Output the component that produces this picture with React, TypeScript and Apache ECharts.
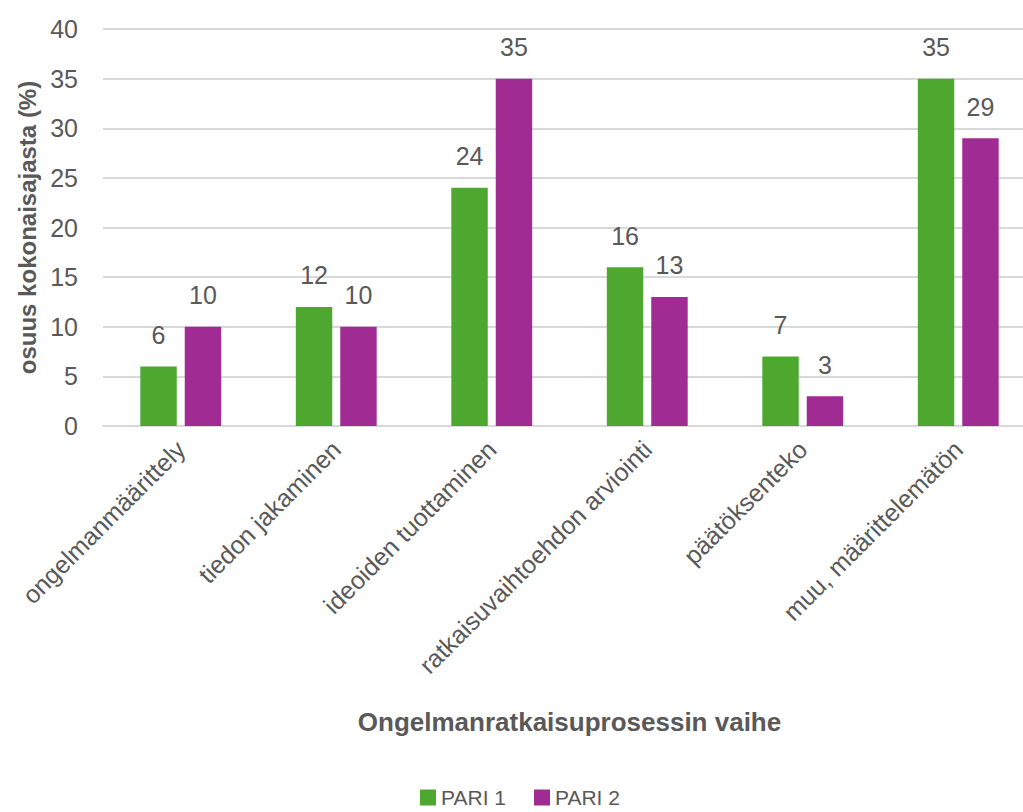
import React, { useEffect, useRef } from "react";
import * as echarts from "echarts";

const categories = [
  "ongelmanmäärittely",
  "tiedon jakaminen",
  "ideoiden tuottaminen",
  "ratkaisuvaihtoehdon arviointi",
  "päätöksenteko",
  "muu, määrittelemätön",
];
const pari1 = [6, 12, 24, 16, 7, 35];
const pari2 = [10, 10, 35, 13, 3, 29];
const seriesNames = ["PARI 1", "PARI 2"];
const colors = ["#4EA72E", "#A02B93"];
const xTitle = "Ongelmanratkaisuprosessin vaihe";
const yTitle = "osuus kokonaisajasta (%)";

const FONT = "Liberation Sans";

export default function App() {
  const ref = useRef<HTMLDivElement>(null);
  useEffect(() => {
    if (!ref.current) return;
    const chart = echarts.init(ref.current, undefined, { renderer: "svg" });
    const label = {
      show: true,
      position: "top",
      distance: 19,
      color: "#595959",
      fontSize: 25,
      fontFamily: FONT,
    };
    chart.setOption({
      animation: false,
      grid: { left: 103, right: 4, top: 29, bottom: 386, containLabel: false },
      legend: {
        top: 782,
        left: "center",
        itemWidth: 16,
        itemHeight: 16,
        itemGap: 28,
        icon: "rect",
        textStyle: { color: "#595959", fontSize: 21, fontFamily: FONT },
        data: seriesNames,
      },
      xAxis: {
        type: "category",
        data: categories,
        name: xTitle,
        nameLocation: "middle",
        nameGap: 283,
        nameTextStyle: { color: "#595959", fontSize: 26, fontWeight: "bold", fontFamily: FONT },
        axisLine: { show: true, lineStyle: { color: "#d9d9d9", width: 2 } },
        axisTick: { show: false },
        axisLabel: {
          rotate: 45,
          interval: 0,
          margin: 19,
          color: "#595959",
          fontSize: 25,
          fontFamily: FONT,
        },
      },
      yAxis: {
        type: "value",
        min: 0,
        max: 40,
        interval: 5,
        name: yTitle,
        nameLocation: "middle",
        nameGap: 64,
        nameTextStyle: { color: "#595959", fontSize: 24, fontWeight: "bold", fontFamily: FONT },
        axisLine: { show: false },
        axisTick: { show: false },
        axisLabel: { color: "#595959", fontSize: 25, fontFamily: FONT, margin: 25 },
        splitLine: { lineStyle: { color: "#d9d9d9", width: 2 } },
      },
      series: [
        {
          name: seriesNames[0],
          type: "bar",
          data: pari1,
          itemStyle: { color: colors[0] },
          barGap: "22%",
          barCategoryGap: "48%",
          label,
        },
        {
          name: seriesNames[1],
          type: "bar",
          data: pari2,
          itemStyle: { color: colors[1] },
          barGap: "22%",
          barCategoryGap: "48%",
          label,
        },
      ],
    });
    return () => chart.dispose();
  }, []);
  return (
    <div
      style={{
        position: "fixed",
        left: 0,
        top: 0,
        width: 1023,
        height: 812,
        overflow: "hidden",
        background: "#fff",
      }}
    >
      <div ref={ref} style={{ width: 1040, height: 812 }} />
    </div>
  );
}
